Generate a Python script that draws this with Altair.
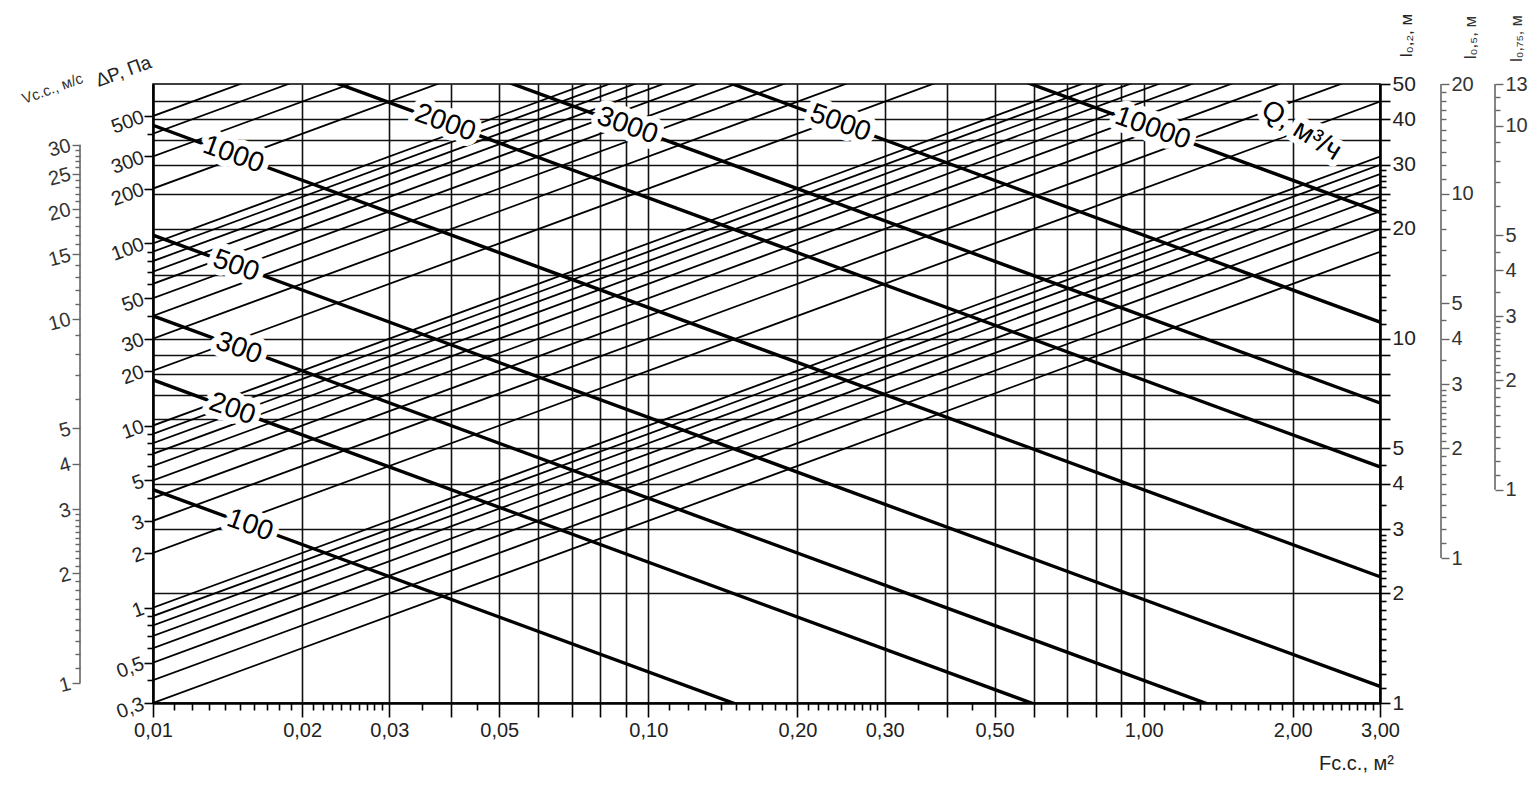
import json
import altair as alt
import pandas as pd

FONT = "Liberation Sans"
W, H = 1227, 619

# ---------------- scales (domains) ----------------
F_DOMAIN = [0.01, 3.0]
DP_DOMAIN = [0.3, 750.0]
L02_DOMAIN = [1.0, 50.0]
L05_DOMAIN = [0.4, 20.0]
L075_DOMAIN = [0.26, 13.0]
V_DOMAIN = [0.881, 44.05]

# ---------------- data ----------------
# thin rising lines: ΔP at the left edge (F=0.01) and at the right edge (F=3.00)
rise_dp_left = [0.3, 0.4, 0.5, 0.6, 0.7, 0.8, 0.9, 1, 2, 3, 4, 5, 6, 7, 8, 9, 10,
                20, 30, 40, 50, 60, 70, 80, 90, 100, 200, 300, 400, 500]
rise_dp_right = [90, 120, 150, 180, 210, 240, 270, 300, 600, 900, 1200, 1500, 1800,
                 2100, 2400, 2700, 3000, 6000, 9000, 12000, 15000, 18000, 21000,
                 24000, 27000, 30000, 60000, 90000, 120000, 150000]

# thick Q lines (m3/h): ΔP at the left edge (F=0.01) and at the right edge (F=3.00)
q_values = [100, 200, 300, 500, 1000, 2000, 3000, 5000, 10000]
q_dp_left = [4.45, 17.8, 40.0, 111.0, 445.0, 1780.0, 4000.0, 11100.0, 44500.0]
q_dp_right = [0.0148, 0.0593, 0.133, 0.37, 1.48, 5.93, 13.3, 37.0, 148.0]

# labels of the Q lines
label_text = ["100", "200", "300", "500", "1000", "2000", "3000", "5000", "10000", "Q, м³/ч"]
label_F = [0.0157, 0.01445, 0.0149, 0.0147, 0.01452, 0.0389, 0.0907, 0.244, 1.042, 2.08]
label_dp = [2.83, 12.3, 26.5, 75.0, 306.0, 457.0, 441.0, 456.0, 427.0, 415.0]
label_angle = [20, 20, 20, 20, 20, 20, 20, 20, 20, 32]


def seq(a, b, s):
    n = int(round((b - a) / s))
    return [round(a + i * s, 4) for i in range(n + 1)]


# x (F) ticks
x_major = [0.01, 0.02, 0.03, 0.05, 0.1, 0.2, 0.3, 0.5, 1, 2, 3]
x_grid = [0.02, 0.03, 0.04, 0.05, 0.06, 0.07, 0.08, 0.09, 0.1, 0.2, 0.3, 0.4, 0.5,
          0.6, 0.7, 0.8, 0.9, 1, 2]
x_minor = (seq(0.011, 0.019, 0.001) + seq(0.021, 0.029, 0.001) + [0.035, 0.04, 0.045]
           + [0.06, 0.07, 0.08, 0.09] + seq(0.11, 0.19, 0.01) + seq(0.21, 0.29, 0.01)
           + [0.35, 0.4, 0.45, 0.6, 0.7, 0.8, 0.9] + seq(1.1, 1.9, 0.1) + seq(2.1, 2.9, 0.1))
x_ticks = sorted(set(x_major + x_minor))
x_long = sorted(set(x_major + x_grid))

# ΔP ticks
dp_major = [0.3, 0.5, 1, 2, 3, 5, 10, 20, 30, 50, 100, 200, 300, 500]
dp_minor = [0.4, 0.6, 0.7, 0.8, 0.9, 4, 6, 7, 8, 9, 40, 60, 70, 80, 90, 400]

# l0.2 ticks
l02_major = [1, 2, 3, 4, 5, 10, 20, 30, 40, 50]
l02_grid = [2, 3, 4, 5, 6, 7, 8, 9, 10, 15, 20, 25, 30, 35, 40, 45]
l02_minor = (seq(1.1, 1.9, 0.1) + seq(2.1, 2.9, 0.1) + [3.5, 4.5, 6, 7, 8, 9]
             + list(range(11, 20)) + list(range(21, 30)) + [35, 45])

# l0.5 ticks
l05_major = [1, 2, 3, 4, 5, 10, 20]
l05_minor = seq(1.1, 1.9, 0.1) + seq(2.1, 2.9, 0.1) + [3.5, 4.5, 6, 7, 8, 9] + list(range(11, 20))

# l0.75 ticks
l075_major = [1, 2, 3, 4, 5, 10, 13]
l075_minor = seq(1.1, 1.9, 0.1) + seq(2.1, 2.9, 0.1) + [3.5, 4.5, 6, 7, 8, 9, 11, 12]

# V ticks
v_major = [1, 2, 3, 4, 5, 10, 15, 20, 25, 30]
v_minor = (seq(1.1, 1.9, 0.1) + seq(2.1, 2.9, 0.1) + [6, 7, 8, 9]
           + [11, 12, 13, 14, 16, 17, 18, 19, 21, 22, 23, 24, 26, 27, 28, 29])

# ---------------- tables ----------------
rise_rows = []
for i, (a, b) in enumerate(zip(rise_dp_left, rise_dp_right)):
    rise_rows.append({"id": f"r{i}", "F": F_DOMAIN[0], "dp": a})
    rise_rows.append({"id": f"r{i}", "F": F_DOMAIN[1], "dp": b})
rise_df = pd.DataFrame(rise_rows)

q_rows = []
for q, a, b in zip(q_values, q_dp_left, q_dp_right):
    q_rows.append({"id": f"q{q}", "F": F_DOMAIN[0], "dp": a})
    q_rows.append({"id": f"q{q}", "F": F_DOMAIN[1], "dp": b})
q_df = pd.DataFrame(q_rows)

lab_df = pd.DataFrame({"label": label_text, "F": label_F, "dp": label_dp, "ang": label_angle})


# ---------------- helpers ----------------
def in_list(vals):
    return "indexof(" + json.dumps(vals) + ", datum.value) >= 0"


def cond(vals, a, b):
    return {"condition": {"test": in_list(vals), "value": a}, "value": b}


def common(color, label_color):
    return dict(labelFont=FONT, titleFont=FONT, labelColor=label_color, tickColor=color,
                domainColor=color, titleColor=label_color, titleFontWeight="normal",
                labelOverlap=False, labelFlush=False)


x_axis = alt.Axis(
    orient="bottom", values=x_ticks,
    labelExpr=f"{in_list(x_major)} ? replace(format(datum.value, '.2f'), '.', ',') : ''",
    tickSize=cond(x_long, 14, 7), tickWidth=1.6,
    grid=True, gridColor="#111111", gridWidth=1.6, gridOpacity=cond(x_grid, 1, 0),
    domainWidth=2.6, labelFontSize=20, labelPadding=3,
    title="Fс.с., м²", titleFontSize=20, titleX=1203, titleY=60,
    titleAlign="center", titleBaseline="middle", titleAngle=0,
    **common("black", "#222222"))

dp_axis = alt.Axis(
    orient="left", values=sorted(dp_major + dp_minor),
    labelExpr=f"{in_list(dp_major)} ? replace('' + datum.value, '.', ',') : ''",
    tickSize=cond(dp_major, 9, 6), tickWidth=1.6, grid=False,
    domainWidth=2.6, labelFontSize=20, labelPadding=1, labelAngle=340,
    labelAlign="right", labelBaseline="middle",
    title="ΔP, Па", titleFontSize=19, titleX=-30, titleY=-13, titleAngle=340,
    titleAlign="center", titleBaseline="middle",
    **common("black", "#222222"))

l02_axis = alt.Axis(
    orient="right", offset=0, values=sorted(set(l02_major + l02_minor)),
    labelExpr=f"{in_list(l02_major)} ? '' + datum.value : ''",
    tickSize=cond(sorted(set(l02_major + l02_grid)), 10, 6), tickWidth=1.6,
    grid=True, gridColor="#111111", gridWidth=1.6, gridOpacity=cond(l02_grid, 1, 0),
    domainWidth=2.6, labelFontSize=21, labelPadding=2,
    title="l₀,₂, м", titleFontSize=17, titleX=26, titleY=-49, titleAngle=270,
    titleAlign="center", titleBaseline="middle",
    **common("black", "#222222"))

GRAY = "#666666"

l05_axis = alt.Axis(
    orient="right", offset=61, values=sorted(set(l05_major + l05_minor)),
    labelExpr=f"{in_list(l05_major)} ? '' + datum.value : ''",
    tickSize=cond(l05_major, 8, 5), tickWidth=1.4, grid=False, domain=False,
    labelFontSize=20, labelPadding=2,
    title="l₀,₅, м", titleFontSize=17, titleX=29, titleY=-47, titleAngle=270,
    titleAlign="center", titleBaseline="middle",
    **common(GRAY, "#333333"))

l075_axis = alt.Axis(
    orient="right", offset=115, values=sorted(set(l075_major + l075_minor)),
    labelExpr=f"{in_list(l075_major)} ? '' + datum.value : ''",
    tickSize=cond(l075_major, 8, 5), tickWidth=1.4, grid=False, domain=False,
    labelFontSize=20, labelPadding=2,
    title="l₀,₇₅, м", titleFontSize=16, titleX=21, titleY=-46, titleAngle=270,
    titleAlign="center", titleBaseline="middle",
    **common(GRAY, "#333333"))

v_axis = alt.Axis(
    orient="left", offset=73, values=sorted(set(v_major + v_minor)),
    labelExpr=f"{in_list(v_major)} ? '' + datum.value : ''",
    tickSize=cond(v_major, 8, 5), tickWidth=1.4, grid=False, domain=False,
    labelFontSize=20, labelPadding=2, labelAngle=345,
    labelAlign="right", labelBaseline="middle",
    title="Vс.с., м/с", titleFontSize=15, titleX=-28, titleY=4, titleAngle=340,
    titleAlign="center", titleBaseline="middle",
    **common(GRAY, "#333333"))

# ---------------- main layer ----------------
x_enc = alt.X("F:Q", scale=alt.Scale(type="log", domain=F_DOMAIN, nice=False), axis=x_axis)
y_enc = alt.Y("dp:Q", scale=alt.Scale(type="log", domain=DP_DOMAIN, nice=False), axis=dp_axis)

rise = alt.Chart(rise_df).mark_line(clip=True, color="black", strokeWidth=1.8).encode(
    x=x_enc, y=y_enc, detail="id:N")
qlines = alt.Chart(q_df).mark_line(clip=True, color="black", strokeWidth=3.4).encode(
    x=x_enc, y=y_enc, detail="id:N")
halo = alt.Chart(lab_df).mark_text(
    font=FONT, fontSize=28, fill="white", stroke="white", strokeWidth=13,
    strokeJoin="round", align="center", baseline="middle").encode(
    x=x_enc, y=y_enc, text="label:N", angle=alt.Angle("ang:Q", scale=None))
labels = alt.Chart(lab_df).mark_text(
    font=FONT, fontSize=28, color="black", align="center", baseline="middle").encode(
    x=x_enc, y=y_enc, text="label:N", angle=alt.Angle("ang:Q", scale=None))

main = alt.layer(rise, qlines, halo, labels)

# ---------------- extra axes ----------------
l02_layer = alt.Chart(pd.DataFrame({"l": L02_DOMAIN})).mark_point(opacity=0).encode(
    y=alt.Y("l:Q", scale=alt.Scale(type="log", domain=L02_DOMAIN, nice=False), axis=l02_axis))

l05_layer = alt.Chart(pd.DataFrame({"lo": [1], "hi": [20]})).mark_rule(
    color=GRAY, strokeWidth=1.6).encode(
    x=alt.value(W + 61),
    y=alt.Y("lo:Q", scale=alt.Scale(type="log", domain=L05_DOMAIN, nice=False), axis=l05_axis),
    y2="hi:Q")

l075_layer = alt.Chart(pd.DataFrame({"lo": [1], "hi": [13]})).mark_rule(
    color=GRAY, strokeWidth=1.6).encode(
    x=alt.value(W + 115),
    y=alt.Y("lo:Q", scale=alt.Scale(type="log", domain=L075_DOMAIN, nice=False), axis=l075_axis),
    y2="hi:Q")

v_layer = alt.Chart(pd.DataFrame({"lo": [1], "hi": [30]})).mark_rule(
    color=GRAY, strokeWidth=1.6).encode(
    x=alt.value(-73),
    y=alt.Y("lo:Q", scale=alt.Scale(type="log", domain=V_DOMAIN, nice=False), axis=v_axis),
    y2="hi:Q")

chart = alt.layer(main, l02_layer, l05_layer, l075_layer, v_layer).resolve_scale(
    y="independent"
).properties(
    width=W, height=H,
    autosize=alt.AutoSizeParams(type="none"),
    padding={"left": 145, "top": 76, "right": 148, "bottom": 79},
    background="white",
).configure_view(stroke="black", strokeWidth=1.5)

chart.save("out.html", embed_options={"renderer": "svg", "actions": False})
